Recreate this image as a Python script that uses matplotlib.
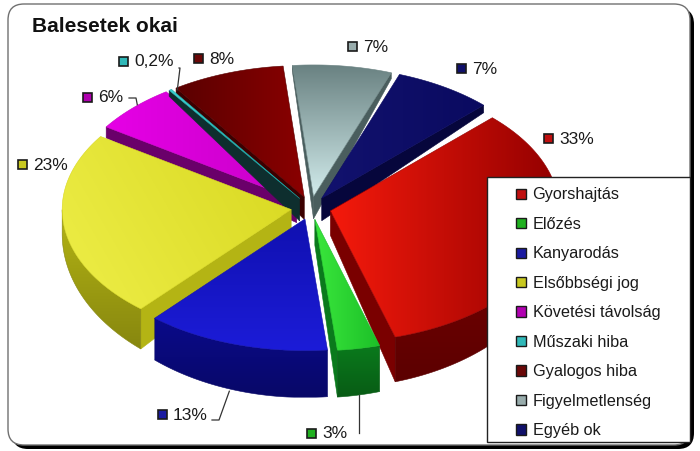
import numpy as np
import matplotlib
matplotlib.use("Agg")
import matplotlib.pyplot as plt
from matplotlib.colors import to_rgb, to_hex
from matplotlib.patches import Polygon, Rectangle, FancyBboxPatch, Patch

plt.rcParams['font.family'] = ['Liberation Sans', 'DejaVu Sans']

# data
categories = ["Gyorshajtás", "Előzés", "Kanyarodás", "Elsőbbségi jog", "Követési távolság",
              "Műszaki hiba", "Gyalogos hiba", "Figyelmetlenség", "Egyéb ok"]
values = [33, 3, 13, 23, 6, 0.2, 8, 7, 7]
value_labels = ["33%", "3%", "13%", "23%", "6%", "0,2%", "8%", "7%", "7%"]

# colours: top face gradient (light, dark), side colour, key colour
top_light = ["#f51a0c", "#3ae63c", "#1c1cd8", "#eeee48", "#e600e6", "#3cd2d2", "#8a0000", "#d2ecec", "#12126e"]
top_dark = ["#930000", "#1cc028", "#1010b0", "#d8d820", "#c800c8", "#20a8a8", "#5a0000", "#6a8282", "#0a0a60"]
grad_dir = [0, 0, 90, 30, 0, 0, 180, 90, 0]   # screen direction light -> dark, degrees
side_colors = ["#7a0000", "#0a7a1c", "#0a0a8a", "#b4b414", "#6a006a", "#0e2e2e", "#3c0000", "#4a5e5e", "#06063c"]
key_colors = ["#c01010", "#20b020", "#1a1aa0", "#c8c820", "#b000b0", "#30b8b8", "#6a0808", "#98acac", "#10106a"]

# layout of the fake 3d pie (pixels)
cx, cy = 311, 208
r, k, e = 229, 0.575, 20
start = 45.0

# data label positions (key square centre)
label_pos = [(548, 138), (311, 433), (162, 414), (22, 164), (87, 97),
             (123, 61), (198, 58), (352, 46), (461, 68)]
leaders = {1: "vert", 2: "elbow", 4: "side", 5: "up"}

fig = plt.figure(figsize=(7, 4.51), dpi=100)
ax = fig.add_axes([0, 0, 1, 1])
ax.set_xlim(0, 700)
ax.set_ylim(451, 0)
ax.axis('off')
ax.set_autoscale_on(False)

# chart frame with shadow
ax.add_patch(FancyBboxPatch((12, 8), 682, 441, boxstyle="round,pad=0,rounding_size=16",
                            facecolor="black", edgecolor="none", zorder=0))
ax.add_patch(FancyBboxPatch((8, 4), 682, 441, boxstyle="round,pad=0,rounding_size=16",
                            facecolor="white", edgecolor="#707070", linewidth=1, zorder=0.5))

ax.text(32, 26, "Balesetek okai", fontsize=15, fontweight='bold', color='#111111',
        va='center', ha='left', zorder=50)

total = sum(values)
sweeps = [v / total * 360 for v in values]


def depth(y):
    # perspective: sides look thicker at the front
    return np.maximum(6, 24 - 0.092 * y)


def proj(x, y, down=False):
    sy = cy - y * k
    if down:
        sy = sy + depth(y)
    return cx + x, sy


def grad_fill(pts, c1, c2, ang, z):
    poly = Polygon(pts, closed=True, facecolor='none', edgecolor='none', zorder=z)
    ax.add_patch(poly)
    x0, y0 = pts.min(axis=0)
    x1, y1 = pts.max(axis=0)
    X, Y = np.meshgrid(np.linspace(x0, x1, 120), np.linspace(y0, y1, 120))
    t = X * np.cos(np.radians(ang)) - Y * np.sin(np.radians(ang))
    t = (t - t.min()) / max(t.max() - t.min(), 1e-9)
    a, b = np.array(to_rgb(c1)), np.array(to_rgb(c2))
    img = a * (1 - t[..., None]) + b * t[..., None]
    im = ax.imshow(img, extent=(x0, x1, y1, y0), origin='upper', aspect='auto',
                   interpolation='bilinear', zorder=z)
    im.set_clip_path(poly)
    ax.add_patch(Polygon(pts, closed=True, facecolor='none', edgecolor=c2, linewidth=0.4, zorder=z))


slices = []
a1 = start
for i, sw in enumerate(sweeps):
    a2 = a1 - sw
    b = np.radians((a1 + a2) / 2)
    ox, oy = e * np.cos(b), e * np.sin(b)
    th = np.radians(np.linspace(a1, a2, max(int(sw * 2), 3)))
    xs = ox + r * np.cos(th)
    ys = oy + r * np.sin(th)
    slices.append(dict(i=i, a1=a1, a2=a2, ox=ox, oy=oy, th=th, xs=xs, ys=ys,
                       depth=np.mean(np.concatenate([[oy], ys]))))
    a1 = a2

z = 2
for s in sorted(slices, key=lambda s: -s['depth']):
    i = s['i']
    ox, oy = s['ox'], s['oy']
    # radial faces
    for ang, vis in ((s['a1'], np.cos(np.radians(s['a1'])) < 0),
                     (s['a2'], np.cos(np.radians(s['a2'])) > 0)):
        if vis:
            rx_, ry_ = ox + r * np.cos(np.radians(ang)), oy + r * np.sin(np.radians(ang))
            pts = np.array([proj(ox, oy), proj(rx_, ry_), proj(rx_, ry_, True), proj(ox, oy, True)])
            ax.add_patch(Polygon(pts, closed=True, facecolor=side_colors[i],
                                 edgecolor=side_colors[i], linewidth=0.4, zorder=z))
            z += 1
    # outer front side
    front = np.sin(s['th']) < 0
    if front.sum() >= 2:
        th = s['th'][front]
        xs = ox + r * np.cos(th)
        ys = oy + r * np.sin(th)
        top = np.column_stack(proj(xs, ys))
        bot = np.column_stack(proj(xs, ys, True))
        pts = np.vstack([top, bot[::-1]])
        grad_fill(pts, side_colors[i], to_hex(np.array(to_rgb(side_colors[i])) * 0.75), -90, z)
        z += 1
    # top face
    pts = np.vstack([[proj(ox, oy)], np.column_stack(proj(s['xs'], s['ys']))])
    grad_fill(pts, top_light[i], top_dark[i], grad_dir[i], z)
    z += 1

# data labels with keys
for s in slices:
    i = s['i']
    px, py = label_pos[i]
    ax.add_patch(Rectangle((px - 4.5, py - 4.5), 9, 9, facecolor=key_colors[i],
                           edgecolor='#1a1a1a', linewidth=1.2, zorder=60))
    ax.text(px + 11, py + 1, value_labels[i], fontsize=12.5, color='#1a1a1a',
            va='center', ha='left', zorder=60)
    mid = np.radians((s['a1'] + s['a2']) / 2)
    ex, ey = s['ox'] + r * np.cos(mid), s['oy'] + r * np.sin(mid)
    kind = leaders.get(i)
    if kind == "vert":
        bx, by = proj(ex, ey, True)
        ax.plot([bx, bx], [py, by], color='#333333', lw=0.9, zorder=61)
    elif kind == "elbow":
        bx, by = proj(ex, ey, True)
        ax.plot([px + 50, px + 57, bx - 6], [py + 6, py + 6, by + 1], color='#333333', lw=0.9, zorder=61)
    elif kind == "side":
        bx, by = proj(ex, ey)
        ax.plot([px + 42, px + 49, bx + 4], [py + 1, py + 1, by - 3], color='#333333', lw=0.9, zorder=61)
    elif kind == "up":
        bx, by = proj(ex, ey)
        ax.plot([px + 56, px + 57, bx + 7], [py + 7, py + 7, by], color='#333333', lw=0.9, zorder=61)

# legend box + legend
ax.add_patch(Rectangle((487, 177), 203, 265, facecolor='white', edgecolor='#222222',
                       linewidth=1.0, zorder=70))
handles = [Patch(facecolor=c, edgecolor='#1a1a1a', linewidth=1.0) for c in key_colors]
leg = ax.legend(handles, categories, loc='upper left', bbox_to_anchor=(516 / 700, 1 - 187.5 / 451),
                frameon=False, fontsize=11.7, borderpad=0, borderaxespad=0,
                handlelength=0.6, handleheight=0.6, handletextpad=0.42, labelspacing=0.89)
leg.set_zorder(80)
for t in leg.get_texts():
    t.set_color('#1a1a1a')

fig.savefig("out.png", dpi=100)
